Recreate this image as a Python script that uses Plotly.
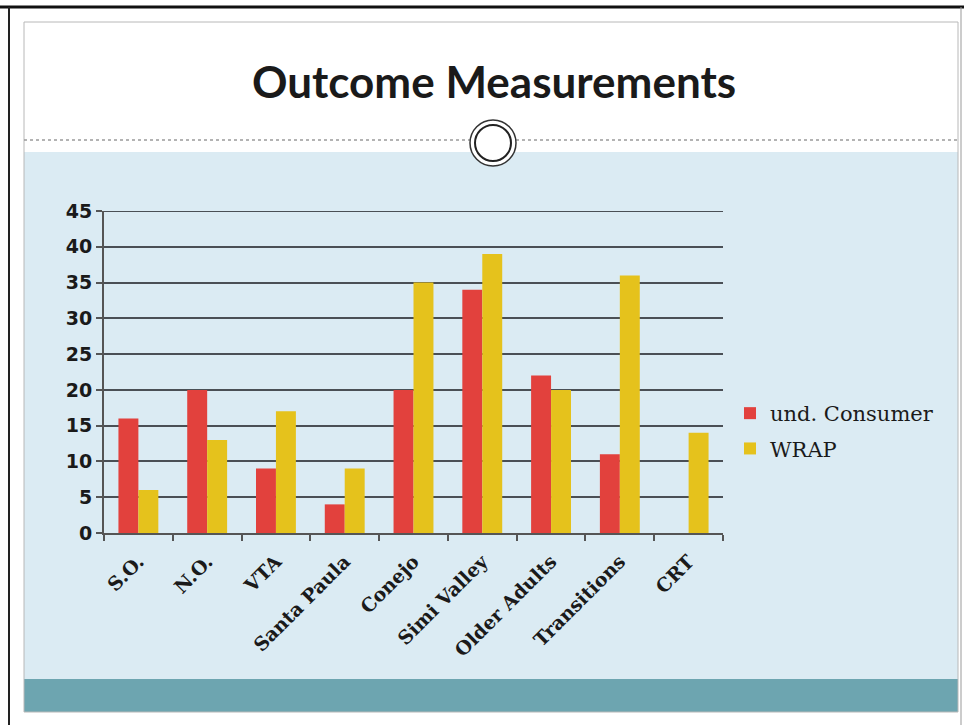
import plotly.graph_objects as go

# Data
categories = ["S.O.", "N.O.", "VTA", "Santa Paula", "Conejo", "Simi Valley",
              "Older Adults", "Transitions", "CRT"]
und_consumer = [16, 20, 9, 4, 20, 34, 22, 11, None]
wrap = [6, 13, 17, 9, 35, 39, 20, 36, 14]
y_ticks = [0, 5, 10, 15, 20, 25, 30, 35, 40, 45]

W, H = 964, 725
L, R, T, B = 104, 723, 211, 533  # plot area in pixels


def px(x):
    return (x - L) / (R - L)


def py(y):
    return (B - y) / (B - T)


fig = go.Figure()
fig.add_trace(go.Bar(name="und. Consumer", x=categories, y=und_consumer,
                     legendgroup="a",
                     marker=dict(color="#e2413d", line=dict(width=0))))
fig.add_trace(go.Bar(name="WRAP", x=categories, y=wrap,
                     legendgroup="b",
                     marker=dict(color="#e5c21c", line=dict(width=0))))

shapes = []
# slide background panels
shapes.append(dict(type="rect", xref="paper", yref="paper", layer="below",
                   x0=px(24), x1=px(958), y0=py(152), y1=py(679),
                   fillcolor="#dbebf3", line=dict(width=0)))
shapes.append(dict(type="rect", xref="paper", yref="paper", layer="below",
                   x0=px(24), x1=px(958), y0=py(679), y1=py(712),
                   fillcolor="#6da5b0", line=dict(width=0)))
# inner slide border
shapes.append(dict(type="rect", xref="paper", yref="paper", layer="below",
                   x0=px(24), x1=px(958), y0=py(22), y1=py(712),
                   fillcolor="rgba(0,0,0,0)", line=dict(color="#b8b8b8", width=1)))
# outer frame
shapes.append(dict(type="line", xref="paper", yref="paper",
                   x0=px(0), x1=px(964), y0=py(7), y1=py(7),
                   line=dict(color="#111111", width=3)))
shapes.append(dict(type="line", xref="paper", yref="paper",
                   x0=px(9), x1=px(9), y0=py(7), y1=py(725),
                   line=dict(color="#222222", width=2)))
shapes.append(dict(type="line", xref="paper", yref="paper",
                   x0=px(961), x1=px(961), y0=py(7), y1=py(725),
                   line=dict(color="#999999", width=1)))
# dotted divider
shapes.append(dict(type="line", xref="paper", yref="paper", layer="below",
                   x0=px(24), x1=px(958), y0=py(140), y1=py(140),
                   line=dict(color="#9a9a9a", width=1.5, dash="dot")))
# circle ornament
shapes.append(dict(type="circle", xref="paper", yref="paper",
                   x0=px(470), x1=px(516), y0=py(120), y1=py(166),
                   fillcolor="white", line=dict(color="#333333", width=1.5)))
shapes.append(dict(type="circle", xref="paper", yref="paper",
                   x0=px(475), x1=px(511), y0=py(125), y1=py(161),
                   fillcolor="white", line=dict(color="#222222", width=2)))
# gridline at the top of the value range
shapes.append(dict(type="line", xref="paper", yref="y", layer="below",
                   x0=px(98), x1=1, y0=y_ticks[-1], y1=y_ticks[-1],
                   line=dict(color="#4a4f55", width=2)))

fig.update_layout(
    width=W, height=H,
    margin=dict(l=L, r=W - R, t=T, b=H - B, pad=0),
    paper_bgcolor="white",
    plot_bgcolor="rgba(0,0,0,0)",
    barmode="group",
    bargap=0.42,
    bargroupgap=0,
    shapes=shapes,
    showlegend=True,
    legend=dict(x=px(730), y=py(431), xanchor="left", yanchor="middle",
                bgcolor="rgba(0,0,0,0)",
                font=dict(family="DejaVu Serif", size=21, color="#1a1a1a"),
                itemwidth=30, tracegroupgap=5, traceorder="grouped"),
    annotations=[dict(text="<b>Outcome Measurements</b>", xref="paper", yref="paper",
                      x=px(494), y=py(81), xanchor="center", yanchor="middle",
                      showarrow=False,
                      font=dict(family="Lato", size=44, color="#1a1a1a"))],
    font=dict(family="DejaVu Serif", color="#1a1a1a"),
)

fig.update_xaxes(
    type="category",
    showline=True, linecolor="#555555", linewidth=2,
    ticks="outside", tickson="boundaries", ticklen=6, tickcolor="#555555", tickwidth=1.5,
    tickangle=-45, ticklabelstandoff=8,
    tickfont=dict(family="DejaVu Serif", size=19, color="#1a1a1a", weight="bold"),
    showgrid=False,
)
fig.update_yaxes(
    range=[0, 45], tickvals=y_ticks,
    showline=True, linecolor="#555555", linewidth=2,
    ticks="outside", ticklen=6, tickcolor="#555555", tickwidth=1.5,
    showgrid=True, gridcolor="#4a4f55", gridwidth=2,
    zeroline=False,
    tickfont=dict(family="DejaVu Sans", size=19, color="#1a1a1a", weight="bold"),
)

fig.write_html("out.html")
